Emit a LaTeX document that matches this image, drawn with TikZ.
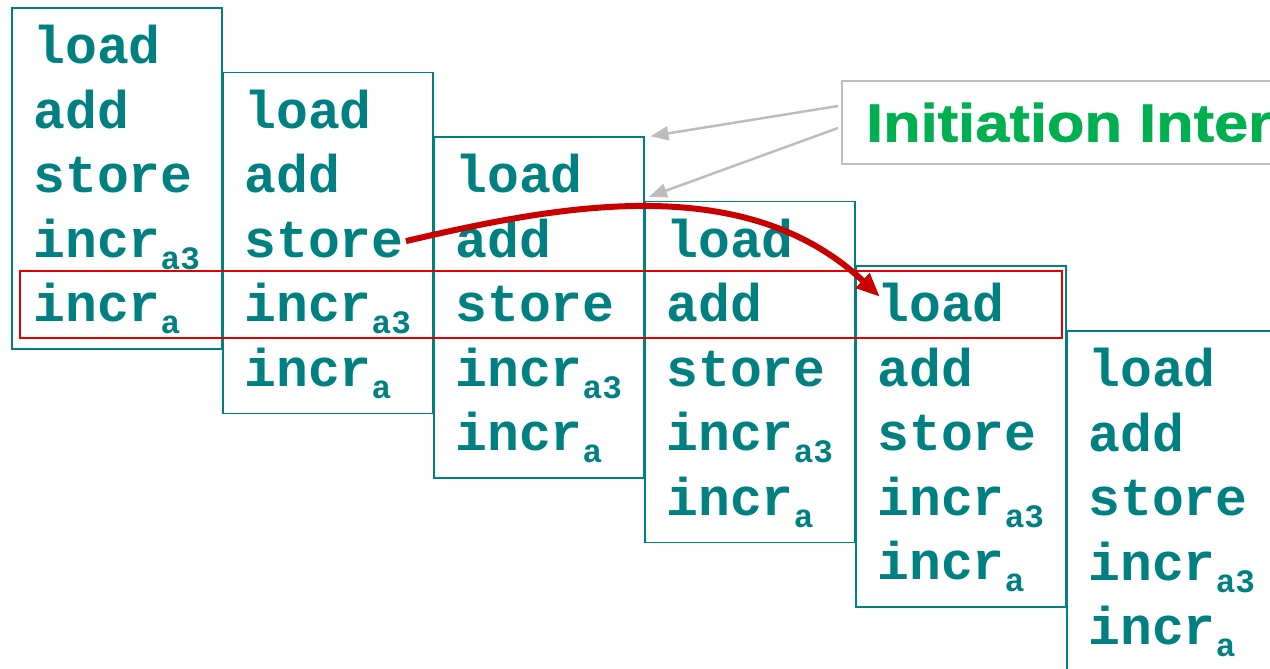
\documentclass[tikz,border=0pt]{standalone}
\usepackage{fontspec}
\setmainfont{Liberation Sans}
\setmonofont{Liberation Mono}
\newfontfamily\bannerfont{Liberation Sans Bold}[FakeStretch=1.15, FakeBold=1.2]
\usepackage{xcolor}
\usetikzlibrary{arrows.meta, positioning, calc}

\definecolor{opteal}{HTML}{008080}
\definecolor{iigreen}{HTML}{00B050}
\definecolor{hlred}{HTML}{E00000}
\definecolor{hopred}{HTML}{C80000}
\definecolor{ptrgray}{HTML}{BDBDBD}

% lowered index after an instruction name
\newcommand\opsub[1]{\raisebox{-2.4mm}{\fontsize{18.6pt}{20pt}\selectfont #1}}

\begin{document}
\begin{tikzpicture}[x=0.2mm, y=-0.2mm,
  stage/.style={draw=opteal, line width=0.3mm, minimum width=42mm,
                minimum height=68.2mm, inner sep=0pt, anchor=north west},
  op/.style={font=\ttfamily\bfseries\fontsize{30.2pt}{36pt}\selectfont,
             text=opteal, inner sep=0pt, anchor=base west},
  banner/.style={draw=ptrgray, line width=0.4mm, anchor=north west,
                 font=\bannerfont\fontsize{30.4pt}{34pt}\selectfont,
                 text=iigreen, inner xsep=4.8mm, inner ysep=0pt,
                 text height=7.6mm, text depth=0pt, minimum height=16.6mm},
  pointer/.style={-{Triangle[length=3.6mm, width=2.8mm]}, ptrgray, line width=0.5mm},
  hop/.style={-{Triangle[length=4.8mm, width=3.8mm]}, hopred, line width=1.2mm},
  highlight/.style={draw=hlred, line width=0.35mm, anchor=north west,
                    minimum width=208.4mm, minimum height=13.4mm, inner sep=0pt}
]
  \useasboundingbox (0,0) rectangle (1270,669);
  \clip (0,0) rectangle (1270,669);

  % one column per loop iteration, each started one slot later
  \foreach \i in {0,...,5} {
    \node[stage] (s\i) at ({11+211*\i}, {7+64.6*\i}) {};
    \foreach \instr [count=\j from 0] in {load, add, store, {incr\opsub{a3}}, {incr\opsub{a}}}
      \node[op] (s\i-\j) at ($(s\i.north west)+(22, {56.5+64.5*\j})$) {\instr};
  }

  % rows issued in the same cycle
  \node[highlight] (row) at (19,270) {};

  \node[banner] (ii) at (841,80) {Initiation Interval};
  \draw[pointer] ($(ii.west)+(-3,-16.5)$) -- ($(s2.north east)+(6,0)$);
  \draw[pointer] ($(ii.west)+(-3,5.5)$) -- ($(s3.north west)+(5,-4)$);

  % store -> load dependence
  \draw[hop] ($(s1-2.base east)+(2,-16)$) .. controls (560,205) and (745,170)
    .. ($(s4-0.base west)+(3,-25)$);
\end{tikzpicture}
\end{document}
